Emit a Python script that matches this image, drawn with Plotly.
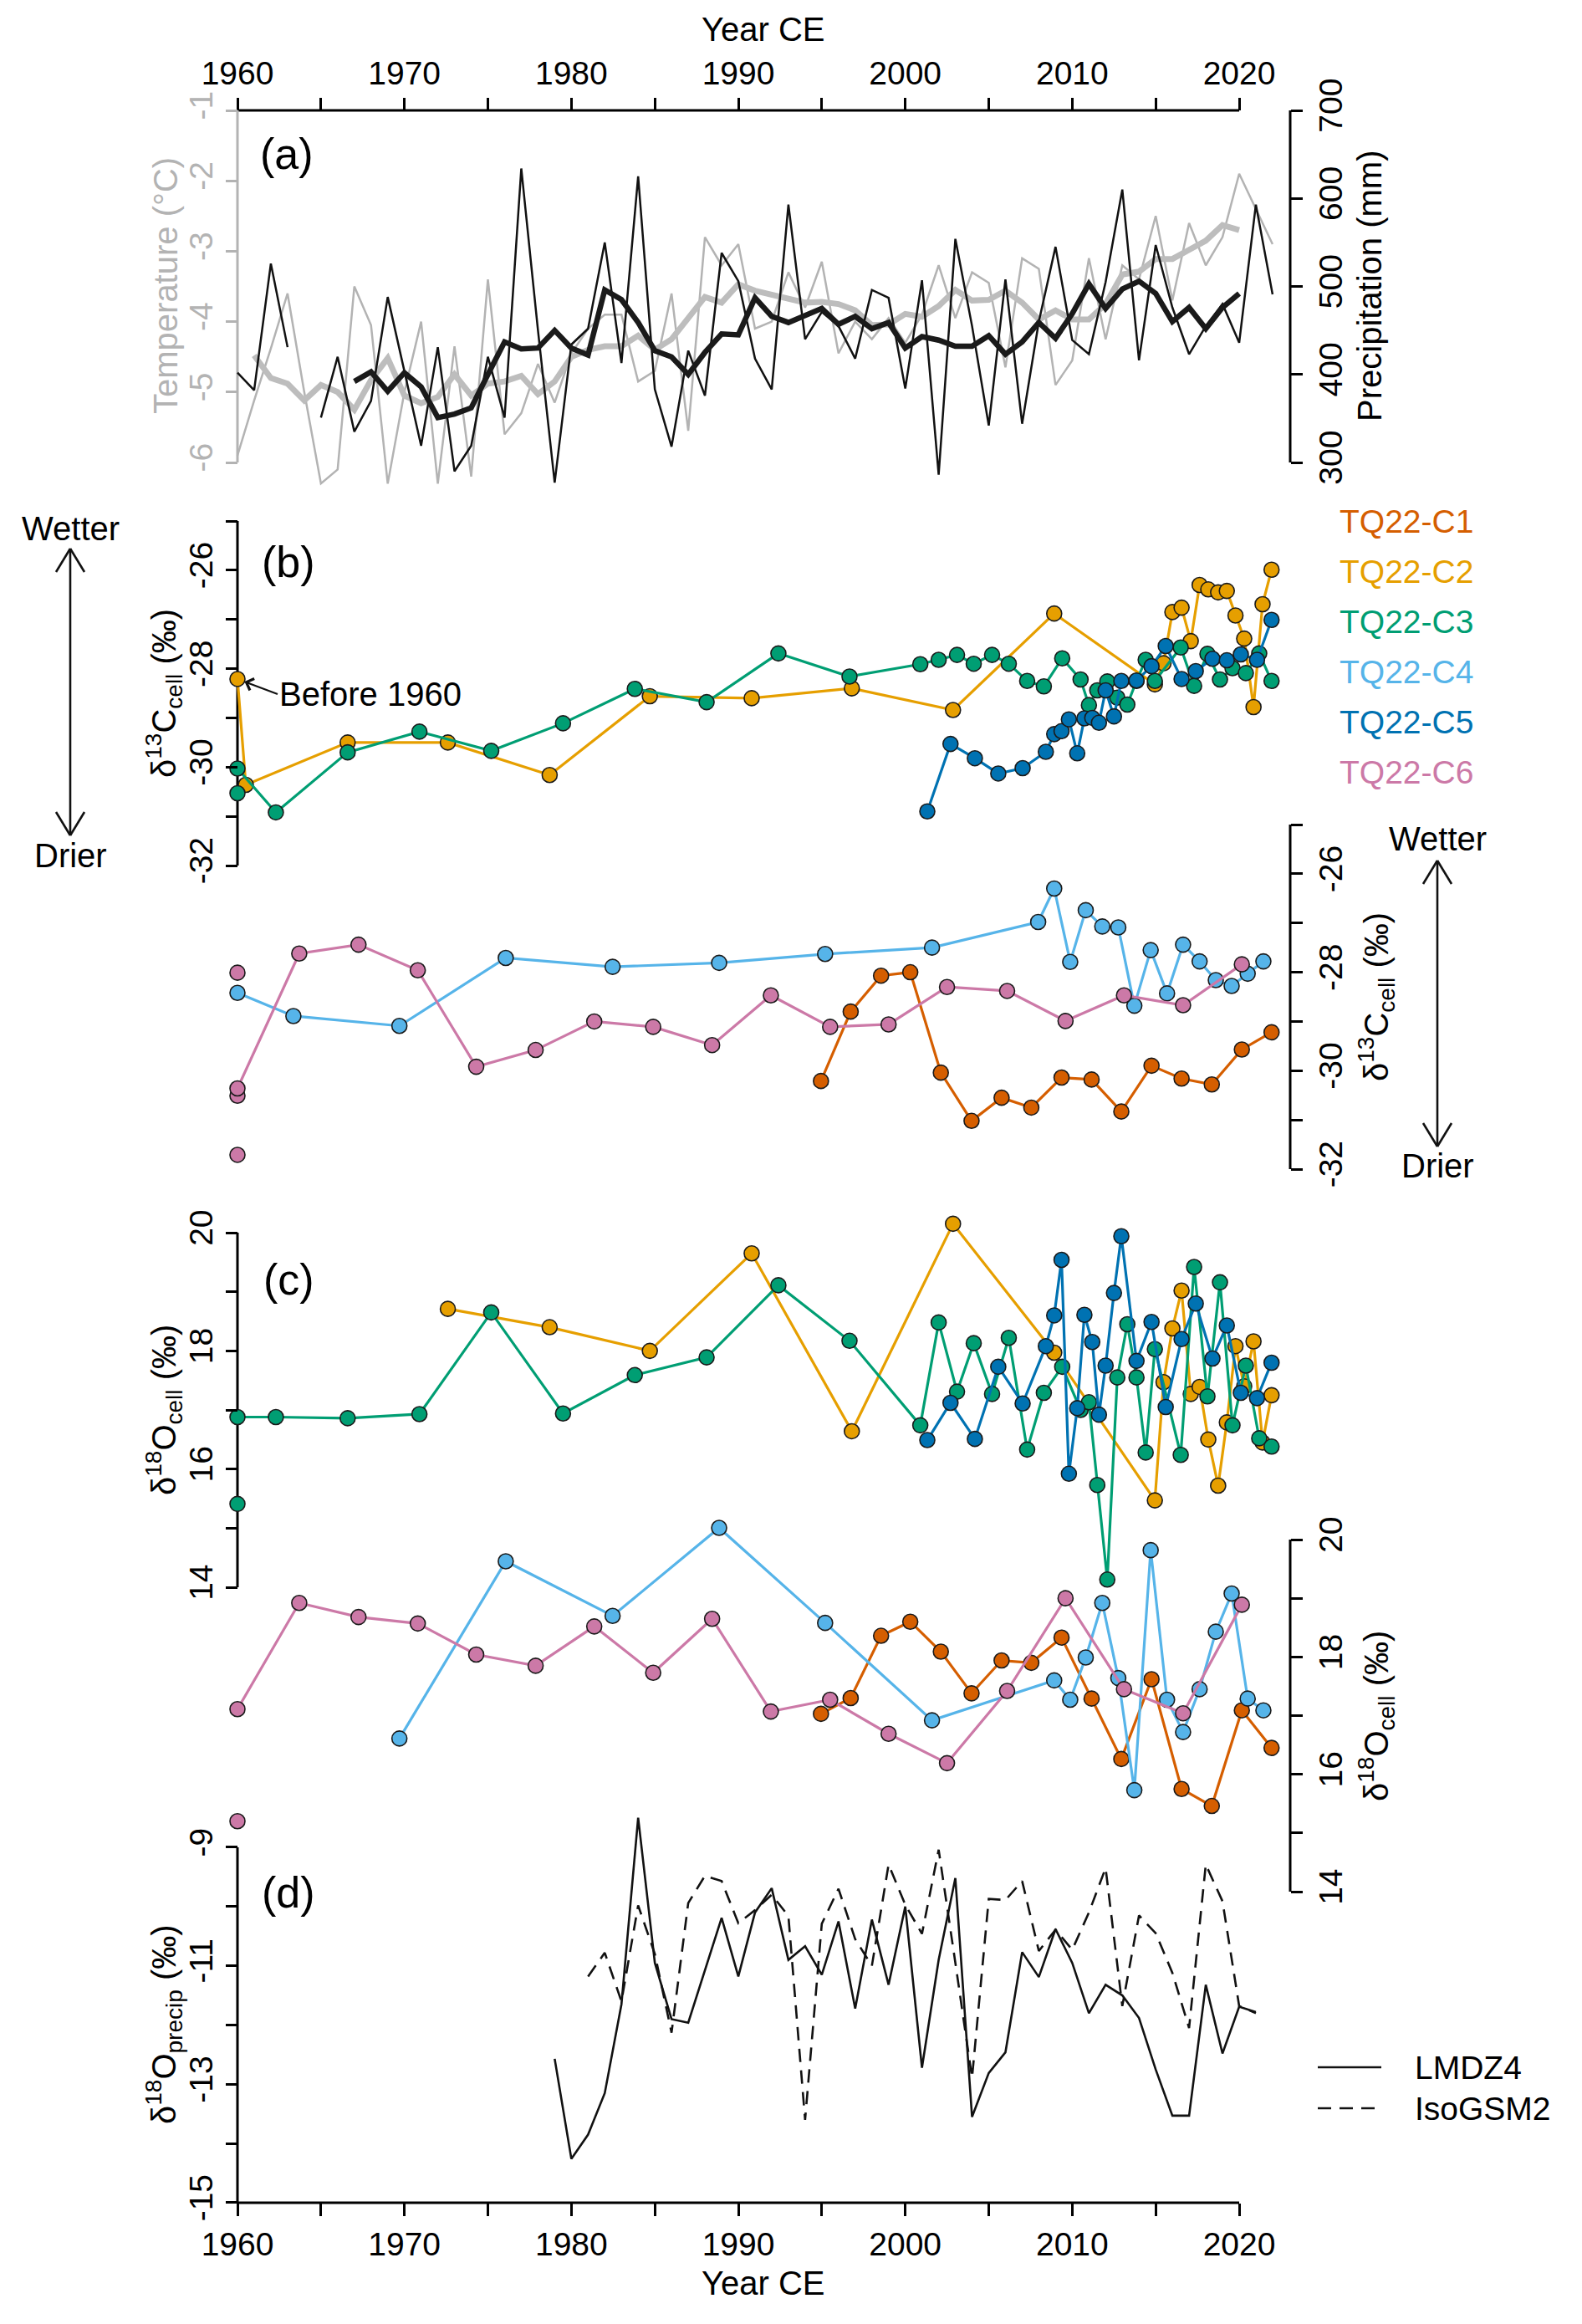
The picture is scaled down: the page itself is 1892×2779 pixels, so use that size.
import plotly.graph_objects as go

# ---------------- data ----------------
years_a = list(range(1960, 2023))
temp_annual = [-5.9, -5.12, -4.38, -3.6, -5.0, -6.3, -6.1, -3.5, -4.05, -6.3,
               -5.0, -4.0, -6.3, -4.35, -6.2, -3.4, -5.6, -5.3, -4.6, -5.15,
               -4.45, -4.1, -3.9, -3.9, -4.85, -4.7, -3.6, -5.55, -2.8, -3.2,
               -2.9, -4.1, -4.0, -3.3, -3.8, -3.15, -4.45, -4.0, -4.25, -3.95,
               -4.3, -3.9, -3.2, -3.95, -3.3, -3.45, -4.65, -3.1, -3.25, -4.9,
               -4.55, -3.1, -4.25, -3.2, -3.4, -2.5, -3.7, -2.6, -3.2, -2.8,
               -1.9, -2.4, -2.9]
temp_smooth_years = list(range(1961, 2021))
temp_smooth = [-4.48, -4.8, -4.88, -5.12, -4.9, -5.0, -5.25, -4.83, -4.52, -5.05,
               -5.16, -5.07, -4.75, -5.05, -4.88, -4.85, -4.77, -5.03, -4.85, -4.5,
               -4.4, -4.35, -4.35, -4.2, -4.4, -4.25, -3.95, -3.65, -3.73, -3.47,
               -3.56, -3.62, -3.67, -3.73, -3.72, -3.75, -3.84, -4.05, -4.04, -3.89,
               -3.93, -3.78, -3.55, -3.7, -3.69, -3.56, -3.73, -3.97, -3.84, -3.97,
               -3.97, -3.75, -3.33, -3.29, -3.11, -3.11, -2.98, -2.85, -2.63, -2.7]
precip_annual = [402, 382, 526, 431, None, 351, 420, 335, 370, 488,
                 402, 319, 431, 290, 319, 420, 351, 634, 450, 277,
                 434, 452, 550, 413, 625, 383, 318, 427, 376, 538,
                 506, 418, 383, 593, 440, 471, 455, 418, 496, 487,
                 384, 507, 286, 554, 455, 342, 508, 344, 460, 545,
                 439, 423, 505, 610, 416, 547, 476, 423, 455, 480,
                 436, 593, 491]
precip_smooth_years = list(range(1967, 2021))
precip_smooth = [392, 403, 381,
                 402, 386, 351, 355, 362, 400, 437, 429, 430, 450,
                 430, 422, 496, 485, 459, 427, 420, 400, 425, 446,
                 445, 487, 466, 459, 467, 475, 457, 466, 452, 459,
                 430, 443, 439, 432, 432, 444, 423, 437, 459, 441,
                 469, 503, 475, 497, 506, 492, 460, 476, 452, 476,
                 492]

c1_years = [1994.95, 1996.73, 1998.55, 2000.3, 2002.13, 2003.97, 2005.77, 2007.55,
            2009.36, 2011.16, 2012.94, 2014.75, 2016.55, 2018.36, 2020.16, 2021.94]
c1_d13c = [-30.21, -28.80, -28.07, -28.0, -30.04, -31.02, -30.55, -30.75,
           -30.14, -30.18, -30.83, -29.90, -30.16, -30.28, -29.57, -29.22]
c1_d18o = [17.03, 17.30, 18.36, 18.60, 18.09, 17.38, 17.94, 17.90,
           18.33, 17.29, 16.26, 17.62, 15.75, 15.46, 17.09, 16.45]

c2_years_d13c = [1960, 1960.5, 1966.6, 1972.6, 1978.7, 1984.7, 1990.8, 1996.8, 2002.86,
                 2008.92, 2014.95, 2015.47, 2016.0, 2016.55, 2017.1, 2017.63, 2018.15,
                 2018.74, 2019.26, 2019.78, 2020.3, 2020.86, 2021.4, 2021.94]
c2_d13c = [-28.21, -30.36, -29.5, -29.5, -30.16, -28.56, -28.6, -28.4, -28.84,
           -26.88, -28.32, -27.89, -26.85, -26.76, -27.44, -26.30, -26.39,
           -26.45, -26.42, -26.92, -27.39, -28.78, -26.69, -25.99]
c2_years_d18o = [1972.6, 1978.7, 1984.7, 1990.8, 1996.8, 2002.86, 2008.92, 2014.95,
                 2015.47, 2016.0, 2016.55, 2017.1, 2017.63, 2018.15, 2018.74, 2019.26,
                 2019.78, 2020.3, 2020.86, 2021.4, 2021.94]
c2_d18o = [18.71, 18.40, 18.0, 19.65, 16.64, 20.15, 17.97, 15.47,
           17.47, 18.38, 19.02, 17.27, 17.39, 16.50, 15.72, 16.79,
           18.08, 17.40, 18.16, 16.45, 17.25]

c3_pre_years = [1960]
c3_pre_d13c = [-30.53]
c3_pre_d18o = [15.41]
c3_years = [1960, 1962.3, 1966.6, 1970.9, 1975.2, 1979.5, 1983.8, 1988.1, 1992.4,
            1996.66, 2000.9, 2002.0, 2003.1, 2004.1, 2005.2, 2006.2, 2007.3, 2008.3,
            2009.4, 2010.5, 2011.0, 2011.5, 2012.1, 2012.7, 2013.3, 2013.85, 2014.4,
            2014.95, 2016.5, 2017.3, 2018.1, 2018.85, 2019.6, 2020.4, 2021.2, 2021.94]
c3_d13c = [-30.03, -30.92, -29.7, -29.28, -29.67, -29.11, -28.41, -28.68, -27.69,
           -28.16, -27.91, -27.82, -27.72, -27.90, -27.72, -27.90, -28.25, -28.36,
           -27.79, -28.22, -28.74, -28.44, -28.26, -28.59, -28.73, -28.25, -27.82,
           -28.25, -27.57, -28.35, -27.70, -28.22, -27.99, -28.09, -27.69, -28.25]
c3_d18o = [16.88, 16.88, 16.86, 16.93, 18.65, 16.94, 17.59, 17.89, 19.11,
           18.17, 16.74, 18.48, 17.31, 18.13, 17.27, 18.22, 16.33, 17.29,
           17.73, 17.0, 17.13, 15.73, 14.13, 17.55, 18.45, 17.55, 16.28,
           18.03, 16.24, 19.42, 17.23, 19.16, 16.74, 17.75, 16.52, 16.38]

c4_years_d13c = [1960, 1963.35, 1969.7, 1976.07, 1982.47, 1988.85, 1995.2, 2001.6, 2007.96,
                 2008.92, 2009.88, 2010.81, 2011.8, 2012.76, 2013.72, 2014.7, 2015.68,
                 2016.64, 2017.63, 2018.6, 2019.55, 2020.51, 2021.45]
c4_d13c = [-28.42, -28.89, -29.09, -27.71, -27.89, -27.81, -27.63, -27.50, -26.98,
           -26.30, -27.79, -26.74, -27.07, -27.09, -28.68, -27.55, -28.43,
           -27.44, -27.78, -28.16, -28.28, -28.03, -27.78]
c4_years_d18o = [1969.7, 1976.07, 1982.47, 1988.85, 1995.2, 2001.6, 2008.92, 2009.88,
                 2010.81, 2011.8, 2012.76, 2013.72, 2014.7, 2015.68, 2016.64, 2017.63,
                 2018.6, 2019.55, 2020.51, 2021.45]
c4_d18o = [16.61, 19.63, 18.70, 20.2, 18.58, 16.92, 17.60, 17.27,
           17.99, 18.92, 17.64, 15.73, 19.82, 17.27, 16.72, 17.45,
           18.43, 19.08, 17.29, 17.09]

c5_years = [2001.32, 2002.71, 2004.17, 2005.57, 2007.03, 2008.42, 2008.92, 2009.36, 2009.8,
            2010.3, 2010.73, 2011.2, 2011.6, 2012.0, 2012.5, 2012.94, 2013.85, 2014.75,
            2015.6, 2016.55, 2017.4, 2018.4, 2019.26, 2020.1, 2021.07, 2021.94]
c5_d13c = [-30.9, -29.53, -29.82, -30.13, -30.02, -29.69, -29.33, -29.27, -29.03,
           -29.72, -29.01, -29.0, -29.1, -28.44, -28.97, -28.25, -28.24, -27.95,
           -27.54, -28.21, -28.05, -27.8, -27.83, -27.71, -27.82, -27.01]
c5_d18o = [16.49, 17.12, 16.51, 17.73, 17.11, 18.08, 18.60, 19.54, 15.92,
           17.03, 18.61, 18.15, 16.92, 17.75, 18.98, 19.94, 17.83, 18.49,
           17.05, 18.2, 18.80, 17.87, 18.43, 17.29, 17.20, 17.80]

c6_years = [1960, 1963.7, 1967.25, 1970.8, 1974.3, 1977.86, 1981.37, 1984.9, 1988.43,
            1991.95, 1995.5, 1999.0, 2002.5, 2006.1, 2009.6, 2013.1, 2016.64, 2020.16]
c6_d13c = [-30.36, -27.62, -27.44, -27.96, -29.92, -29.58, -29.0, -29.11, -29.48,
           -28.47, -29.11, -29.06, -28.30, -28.38, -28.99, -28.47, -28.67, -27.84]
c6_d18o = [17.11, 18.92, 18.68, 18.57, 18.04, 17.85, 18.52, 17.73, 18.65,
           17.07, 17.27, 16.69, 16.19, 17.42, 19.0, 17.45, 17.04, 18.89]
c6_pre_years_d13c = [1960, 1960, 1960]
c6_pre_d13c = [-28.01, -30.51, -31.71]
c6_pre_years_d18o = [1960]
c6_pre_d18o = [15.20]

lmdz_years = list(range(1979, 2022))
lmdz4 = [-12.57, -14.26, -13.85, -13.15, -11.65, -8.5, -10.95, -11.9, -11.96, -11.09,
         -10.19, -11.18, -10.10, -9.69, -10.9, -10.67, -11.15, -10.25, -11.72, -10.22,
         -11.32, -10.0, -12.72, -10.9, -9.52, -13.55, -12.81, -12.46, -10.77, -11.19,
         -10.38, -10.95, -11.8, -11.32, -11.5, -11.88, -12.75, -13.53, -13.53, -11.32,
         -12.48, -11.69, -11.78]
isogsm_years = list(range(1981, 2022))
isogsm2 = [-11.18, -10.78, -11.6, -9.98, -10.8, -12.13, -9.94, -9.48, -9.57, -10.28,
           -10.06, -9.8, -10.16, -13.6, -10.29, -9.7, -10.55, -11.0, -9.29, -9.97,
           -10.46, -9.04, -10.95, -12.89, -9.87, -9.89, -9.57, -10.75, -10.39, -10.73,
           -10.1, -9.35, -11.68, -10.15, -10.45, -11.12, -12.05, -9.29, -9.91, -11.68,
           -11.8]

x_major = [1960, 1970, 1980, 1990, 2000, 2010, 2020]
x_minor = [1965, 1975, 1985, 1995, 2005, 2015]
temp_ticks = [-6, -5, -4, -3, -2, -1]
precip_ticks = [300, 400, 500, 600, 700]
d13c_major = [-32, -30, -28, -26]
d13c_minor = [-31, -29, -27, -25]
d18o_major = [14, 16, 18, 20]
d18o_minor = [15, 17, 19]
dp_major = [-15, -13, -11, -9]
dp_minor = [-14, -12, -10]

core_names = ["TQ22-C1", "TQ22-C2", "TQ22-C3", "TQ22-C4", "TQ22-C5", "TQ22-C6"]

# ---------------- layout helpers ----------------
W, H = 1892, 2779
FONT = "Liberation Sans, Arial, sans-serif"
COL = {"C1": "#D55E00", "C2": "#E69F00", "C3": "#009E73",
       "C4": "#56B4E9", "C5": "#0072B2", "C6": "#CC79A7"}
GRAY = "#B3B3B3"


def fx(p):
    return p / W


def fy(p):
    return 1 - p / H


X_L, X_R = 284.0, 1482.0
PPY = (X_R - X_L) / 60.0
XR = [1956, 2024.5]
x_dom = [fx(X_L + (XR[0] - 1960) * PPY), fx(X_L + (XR[1] - 1960) * PPY)]
LEFT_X = 284.0
RIGHT_X = 1543.0
TOP_AX = 132.0
BOT_AX = 2634.0


def ydom(v_top, p_top, v_bot, p_bot, lo, hi):
    s = (p_bot - p_top) / (v_top - v_bot)
    return [fy(p_top + (v_top - lo) * s), fy(p_top + (v_top - hi) * s)]


def yax(dom, rng, side, tv, minor=None, color="black"):
    d = dict(domain=dom, range=rng, anchor="free",
             position=fx(LEFT_X if side == "left" else RIGHT_X), side=side,
             showgrid=False, zeroline=False, showline=False,
             ticks="outside", ticklen=14, tickwidth=3, tickcolor=color,
             tickmode="array", tickvals=tv, ticktext=[str(v) for v in tv], tickangle=-90,
             tickfont=dict(size=39, color=color, family=FONT),
             automargin=False, fixedrange=True)
    if minor:
        d["minor"] = dict(tickmode="array", tickvals=minor, ticks="outside", ticklen=14,
                          tickwidth=3, tickcolor=color, showgrid=False)
    return d


fig = go.Figure()

# ---------------- panel (a) ----------------
fig.add_trace(go.Scatter(x=years_a, y=temp_annual, xaxis="x2", yaxis="y", mode="lines",
                         line=dict(color=GRAY, width=2.5)))
fig.add_trace(go.Scatter(x=temp_smooth_years, y=temp_smooth, xaxis="x2", yaxis="y",
                         mode="lines", line=dict(color="#BDBDBD", width=7)))
fig.add_trace(go.Scatter(x=years_a, y=precip_annual, xaxis="x2", yaxis="y2", mode="lines",
                         connectgaps=False, line=dict(color="#111111", width=2.5)))
fig.add_trace(go.Scatter(x=precip_smooth_years, y=precip_smooth, xaxis="x2", yaxis="y2",
                         mode="lines", line=dict(color="#1a1a1a", width=6.5)))


def series(x, y, ya, key, mode="lines+markers"):
    fig.add_trace(go.Scatter(x=x, y=y, xaxis="x", yaxis=ya, mode=mode, cliponaxis=False,
                             line=dict(color=COL[key], width=3.2),
                             marker=dict(size=18, color=COL[key],
                                         line=dict(color="#1a1a1a", width=1.6))))


# ---------------- panel (b) ----------------
series(c2_years_d13c, c2_d13c, "y3", "C2")
series(c3_pre_years, c3_pre_d13c, "y3", "C3", mode="markers")
series(c3_years, c3_d13c, "y3", "C3")
series(c5_years, c5_d13c, "y3", "C5")
series(c1_years, c1_d13c, "y4", "C1")
series(c4_years_d13c, c4_d13c, "y4", "C4")
series(c6_pre_years_d13c, c6_pre_d13c, "y4", "C6", mode="markers")
series(c6_years, c6_d13c, "y4", "C6")

# ---------------- panel (c) ----------------
series(c2_years_d18o, c2_d18o, "y5", "C2")
series(c3_pre_years, c3_pre_d18o, "y5", "C3", mode="markers")
series(c3_years, c3_d18o, "y5", "C3")
series(c5_years, c5_d18o, "y5", "C5")
series(c1_years, c1_d18o, "y6", "C1")
series(c4_years_d18o, c4_d18o, "y6", "C4")
series(c6_pre_years_d18o, c6_pre_d18o, "y6", "C6", mode="markers")
series(c6_years, c6_d18o, "y6", "C6")

# ---------------- panel (d) ----------------
fig.add_trace(go.Scatter(x=lmdz_years, y=lmdz4, xaxis="x", yaxis="y7", mode="lines",
                         line=dict(color="#111111", width=2.6)))
fig.add_trace(go.Scatter(x=isogsm_years, y=isogsm2, xaxis="x", yaxis="y7", mode="lines",
                         line=dict(color="#111111", width=2.6, dash="16px,10px")))

xcommon = dict(range=XR, showgrid=False, zeroline=False, showline=False,
               ticks="outside", ticklen=15, tickwidth=3, tickcolor="black",
               tickmode="array", tickvals=x_major, ticktext=[str(v) for v in x_major],
               minor=dict(tickmode="array", tickvals=x_minor, ticks="outside", ticklen=15,
                          tickwidth=3, tickcolor="black", showgrid=False),
               tickfont=dict(size=39, color="black", family=FONT),
               anchor="free", automargin=False, fixedrange=True)

layout = dict(
    width=W, height=H, margin=dict(l=0, r=0, t=0, b=0),
    paper_bgcolor="white", plot_bgcolor="rgba(0,0,0,0)", showlegend=False,
    font=dict(family=FONT, size=39, color="black"),
    xaxis=dict(domain=x_dom, side="bottom", position=fy(BOT_AX), **xcommon),
    xaxis2=dict(overlaying="x", side="top", position=fy(TOP_AX), **xcommon),
    yaxis=yax(ydom(-1, TOP_AX, -6, 553, -6.6, -1), [-6.6, -1], "left",
              temp_ticks, color=GRAY),
    yaxis2=yax(ydom(700, TOP_AX, 300, 553, 250, 700), [250, 700], "right", precip_ticks),
    yaxis3=yax(ydom(-25, 623, -32, 1035, -32, -25), [-32, -25], "left",
               d13c_major, d13c_minor),
    yaxis4=yax(ydom(-25, 986, -32, 1398, -32, -25), [-32, -25], "right",
               d13c_major, d13c_minor),
    yaxis5=yax(ydom(20, 1474, 14, 1898, 14, 20.3), [14, 20.3], "left",
               d18o_major, d18o_minor),
    yaxis6=yax(ydom(20, 1841, 14, 2262, 14, 20.3), [14, 20.3], "right",
               d18o_major, d18o_minor),
    yaxis7=yax(ydom(-9, 2209, -15, BOT_AX, -15, -8.3), [-15, -8.3], "left",
               dp_major, dp_minor),
)
fig.update_layout(**layout)

# ---------------- axis lines (only over the labelled span) ----------------
shapes = []


def hline_x(ypix):
    shapes.append(dict(type="line", xref="x", yref="paper", x0=x_major[0], x1=x_major[-1],
                       y0=fy(ypix), y1=fy(ypix), line=dict(color="black", width=3),
                       layer="below"))


def vline_y(xpix, yref, v0, v1, color="black"):
    shapes.append(dict(type="line", xref="paper", yref=yref, x0=fx(xpix), x1=fx(xpix),
                       y0=v0, y1=v1, line=dict(color=color, width=3), layer="below"))


hline_x(TOP_AX)
hline_x(BOT_AX)
vline_y(LEFT_X, "y", temp_ticks[0], temp_ticks[-1], GRAY)
vline_y(RIGHT_X, "y2", precip_ticks[0], precip_ticks[-1])
vline_y(LEFT_X, "y3", -32, -25)
vline_y(RIGHT_X, "y4", -32, -25)
vline_y(LEFT_X, "y5", 14, 20)
vline_y(RIGHT_X, "y6", 14, 20)
vline_y(LEFT_X, "y7", -15, -9)


def pline(x0, y0, x1, y1, dash=None, width=2.6):
    ln = dict(color="#111111", width=width)
    if dash:
        ln["dash"] = dash
    shapes.append(dict(type="line", xref="paper", yref="paper", x0=fx(x0), y0=fy(y0),
                       x1=fx(x1), y1=fy(y1), line=ln))


def double_arrow(xp, ytop, ybot):
    pline(xp, ytop, xp, ybot)
    for (yt, d) in ((ytop, 1), (ybot, -1)):
        pline(xp, yt, xp - 17, yt + d * 28)
        pline(xp, yt, xp + 17, yt + d * 28)


double_arrow(84, 656, 999)
double_arrow(1719, 1029, 1371)

# legend samples for (d)
pline(1576, 2472, 1652, 2472)
pline(1576, 2521, 1652, 2521, dash="16px,10px")

fig.update_layout(shapes=shapes)

# ---------------- text ----------------
ann = []


def txt(text, xp, yp, size=40, color="black", angle=0, xanchor="center"):
    ann.append(dict(text=text, x=fx(xp), y=fy(yp), xref="paper", yref="paper",
                    showarrow=False, textangle=angle, xanchor=xanchor, yanchor="middle",
                    font=dict(size=size, color=color, family=FONT)))


txt("Year CE", 913, 35)
txt("Year CE", 913, 2730)
txt("(a)", 343, 184, size=52)
txt("(b)", 345, 672, size=52)
txt("(c)", 345, 1530, size=52)
txt("(d)", 345, 2263, size=52)

txt("Temperature (°C)", 198, 342, color=GRAY, angle=-90)
txt("Precipitation (mm)", 1638, 342, angle=-90)
d13 = "δ<sup>13</sup>C<sub>cell</sub> (‰)"
d18 = "δ<sup>18</sup>O<sub>cell</sub> (‰)"
txt(d13, 196, 829, angle=-90)
txt(d13, 1646, 1192, angle=-90)
txt(d18, 196, 1686, angle=-90)
txt(d18, 1646, 2052, angle=-90)
txt("δ<sup>18</sup>O<sub>precip</sub> (‰)", 196, 2421, angle=-90)

for i, (name, key) in enumerate(zip(core_names, ["C1", "C2", "C3", "C4", "C5", "C6"])):
    txt(name, 1600, 623 + 60 * i, size=39, color=COL[key], xanchor="left")

txt("Wetter", 84, 632)
txt("Drier", 84, 1023)
txt("Wetter", 1719, 1003)
txt("Drier", 1719, 1394)
txt("LMDZ4", 1690, 2472, size=39, xanchor="left")
txt("IsoGSM2", 1690, 2521, size=39, xanchor="left")

ann.append(dict(text="Before 1960", x=c2_years_d13c[0], y=c2_d13c[0], xref="x", yref="y3",
                showarrow=True, arrowhead=4, arrowsize=1.3, arrowwidth=2.2,
                arrowcolor="#111111", ax=48, ay=18, xanchor="left", yanchor="middle",
                standoff=9, font=dict(size=40, color="black", family=FONT)))

fig.update_layout(annotations=ann)

fig.write_html("out.html", config={"displayModeBar": False, "staticPlot": True},
               post_script="document.body.style.margin='0';")
